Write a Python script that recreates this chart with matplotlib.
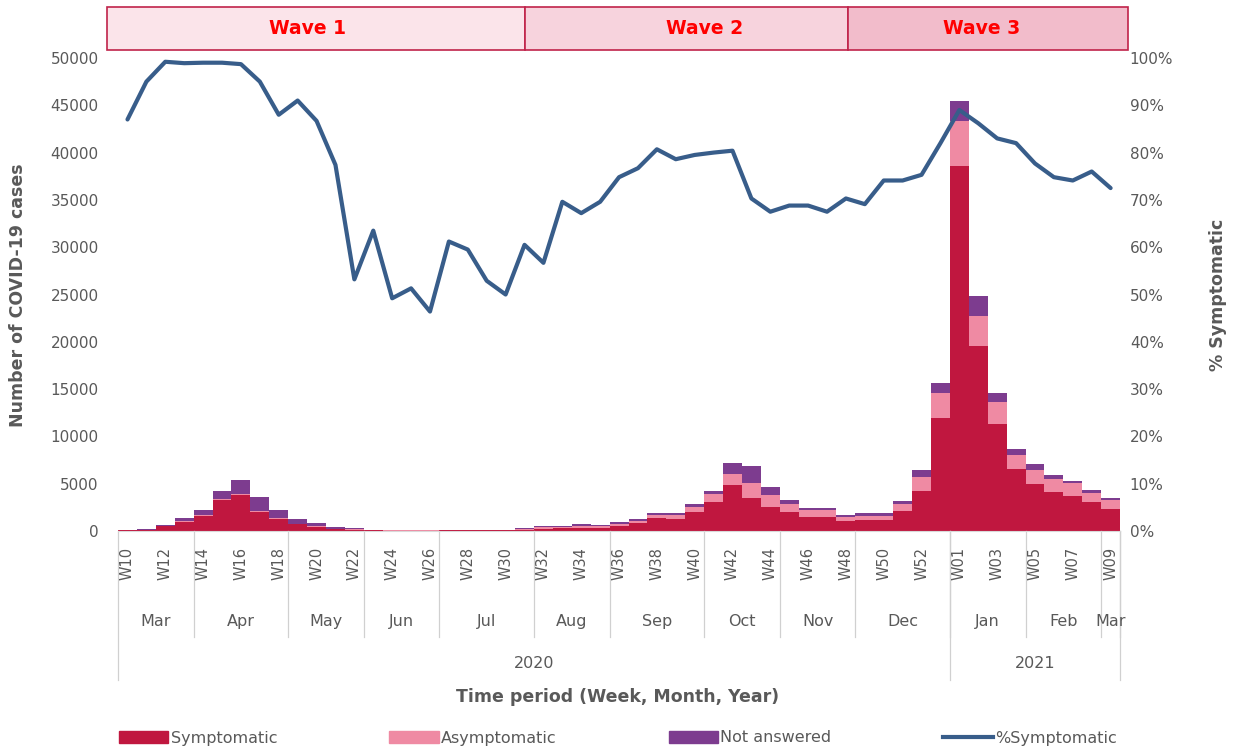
import numpy as np
import matplotlib.pyplot as plt
from matplotlib.patches import Rectangle
from matplotlib.lines import Line2D
import matplotlib.transforms as mtransforms

# weeks W10 2020 .. W09 2021
weeks = ["W%02d" % w for w in range(10, 54)] + ["W%02d" % w for w in range(1, 10)]

symptomatic = [70, 150, 520, 1000, 1640, 3300, 3850, 2050, 1250, 720,
               470, 200, 110, 70, 50, 50, 45, 60, 60, 60,
               60, 150, 230, 270, 360, 370, 557, 813, 1340, 1305,
               2043, 3104, 4840, 3543, 2568, 1961, 1527, 1499, 1012, 1119,
               1200, 2112, 4270, 11990, 38560, 19590, 11290, 6585, 5010, 4085,
               3730, 3080, 2370]
asymptomatic = [10, 10, 5, 10, 20, 35, 50, 100, 170, 70,
                70, 60, 95, 40, 52, 48, 52, 38, 41, 53,
                60, 98, 175, 120, 175, 160, 188, 247, 320, 355,
                527, 776, 1180, 1497, 1237, 889, 693, 721, 428, 501,
                420, 738, 1400, 2630, 4770, 3140, 2310, 1445, 1440, 1375,
                1305, 970, 900]
not_answered = [20, 30, 110, 420, 560, 880, 1500, 1480, 800, 440,
                340, 200, 75, 30, 30, 30, 30, 30, 30, 30,
                30, 40, 130, 140, 160, 160, 175, 210, 210, 210,
                250, 350, 1200, 1830, 810, 390, 210, 210, 210, 250,
                250, 370, 790, 990, 2110, 2150, 950, 670, 670, 420,
                250, 250, 250]
pct_symptomatic = [87.0, 95.0, 99.2, 98.9, 99.0, 99.0, 98.7, 95.0, 88.0, 91.0,
                   86.7, 77.4, 53.2, 63.5, 49.2, 51.3, 46.4, 61.2, 59.5, 52.9,
                   50.0, 60.5, 56.7, 69.6, 67.2, 69.6, 74.8, 76.7, 80.7, 78.6,
                   79.5, 80.0, 80.4, 70.3, 67.5, 68.8, 68.8, 67.5, 70.3, 69.1,
                   74.1, 74.1, 75.3, 82.0, 89.0, 86.2, 83.0, 82.0, 77.7, 74.8,
                   74.1, 76.0, 72.5]

months = ["Mar", "Apr", "May", "Jun", "Jul", "Aug", "Sep", "Oct", "Nov", "Dec",
          "Jan", "Feb", "Mar"]
month_weeks = [4, 5, 4, 4, 5, 4, 5, 4, 4, 5, 4, 4, 1]
years = ["2020", "2021"]
year_weeks = [44, 9]

waves = ["Wave 1", "Wave 2", "Wave 3"]
wave_edges = [-1.1, 21.0, 38.1, 52.9]
wave_text_x = [9.5, 30.5, 45.2]
wave_fill = ["#fbe4ea", "#f7d3dd", "#f2bccb"]

c_sym = "#c0173f"
c_asym = "#ef8aa3"
c_na = "#7d3c8f"
c_line = "#385d8a"
gray = "#595959"

fig = plt.figure(figsize=(12.36, 7.51), dpi=100)
ax = fig.add_axes([0.0955, 0.2929, 0.8107, 0.6299])

x = np.arange(len(weeks))
sym = np.array(symptomatic)
asym = np.array(asymptomatic)
na = np.array(not_answered)

ax.bar(x, sym, width=1.0, color=c_sym, linewidth=0)
ax.bar(x, asym, width=1.0, bottom=sym, color=c_asym, linewidth=0)
ax.bar(x, na, width=1.0, bottom=sym + asym, color=c_na, linewidth=0)

ax.set_xlim(-0.5, len(weeks) - 0.5)
ax.set_ylim(0, 50000)
ax.set_yticks(np.arange(0, 50001, 5000))
ax.tick_params(axis="y", length=0, pad=14, labelsize=11, labelcolor=gray)
ax.set_xticks([])
for s in ["top", "right", "left"]:
    ax.spines[s].set_visible(False)
ax.spines["bottom"].set_color("#d9d9d9")

ax2 = ax.twinx()
ax2.plot(x, pct_symptomatic, color=c_line, lw=3.0, solid_joinstyle="round",
         solid_capstyle="round")
ax2.set_ylim(0, 100)
ax2.set_yticks(np.arange(0, 101, 10))
ax2.set_yticklabels(["%d%%" % v for v in range(0, 101, 10)])
ax2.tick_params(axis="y", length=0, pad=7, labelsize=11, labelcolor=gray)
for s in ax2.spines.values():
    s.set_visible(False)
ax2.set_xlim(-0.5, len(weeks) - 0.5)

# multi level category axis
trans = mtransforms.blended_transform_factory(ax.transData, ax.transAxes)
for i in range(0, len(weeks), 2):
    ax.text(x[i], -0.034, weeks[i], rotation=90, ha="center", va="top",
            fontsize=10.5, color=gray, transform=trans)

pos = -0.5
for name, n in zip(months, month_weeks):
    ax.text(pos + n / 2, -0.192, name, ha="center", va="center",
            fontsize=11.5, color=gray, transform=trans)
    pos += n
    ax.add_line(Line2D([pos, pos], [0, -0.224], color="#d0d0d0", lw=0.9,
                       transform=trans, clip_on=False))

pos = -0.5
ax.add_line(Line2D([pos, pos], [0, -0.315], color="#d0d0d0", lw=0.9,
                   transform=trans, clip_on=False))
for name, n in zip(years, year_weeks):
    ax.text(pos + n / 2, -0.281, name, ha="center", va="center",
            fontsize=11.5, color=gray, transform=trans)
    pos += n
    ax.add_line(Line2D([pos, pos], [0, -0.315], color="#d0d0d0", lw=0.9,
                       transform=trans, clip_on=False))

fig.text(0.5, 1 - 697 / 751, "Time period (Week, Month, Year)", ha="center",
         va="center", fontsize=12.5, fontweight="bold", color=gray)
fig.text(18 / 1236, 1 - 295 / 751, "Number of COVID-19 cases", rotation=90,
         ha="center", va="center", fontsize=12.5, fontweight="bold", color=gray)
fig.text(1218 / 1236, 1 - 295 / 751, "% Symptomatic", rotation=90,
         ha="center", va="center", fontsize=12.5, fontweight="bold", color=gray)

# wave boxes
for i, name in enumerate(waves):
    x0, x1 = wave_edges[i], wave_edges[i + 1]
    ax.add_patch(Rectangle((x0, 1.017), x1 - x0, 0.091, transform=trans,
                           facecolor=wave_fill[i], edgecolor="#c0234a",
                           lw=1.2, clip_on=False))
    ax.text(wave_text_x[i], 1.0625, name, transform=trans, ha="center",
            va="center", fontsize=13.5, fontweight="bold", color="#ff0000")

handles = [Rectangle((0, 0), 1, 1, color=c_sym),
           Rectangle((0, 0), 1, 1, color=c_asym),
           Rectangle((0, 0), 1, 1, color=c_na),
           Line2D([0], [0], color=c_line, lw=3.0)]
labels = ["Symptomatic", "Asymptomatic", "Not answered", "%Symptomatic"]
fig.legend(handles, labels, loc="center", bbox_to_anchor=(0.5, 1 - 738 / 751),
           ncol=4, frameon=False, fontsize=11.5, handlelength=3.1,
           handleheight=0.8, handletextpad=0.15, columnspacing=7.0,
           labelcolor=gray)

fig.savefig("out.png", dpi=100)
